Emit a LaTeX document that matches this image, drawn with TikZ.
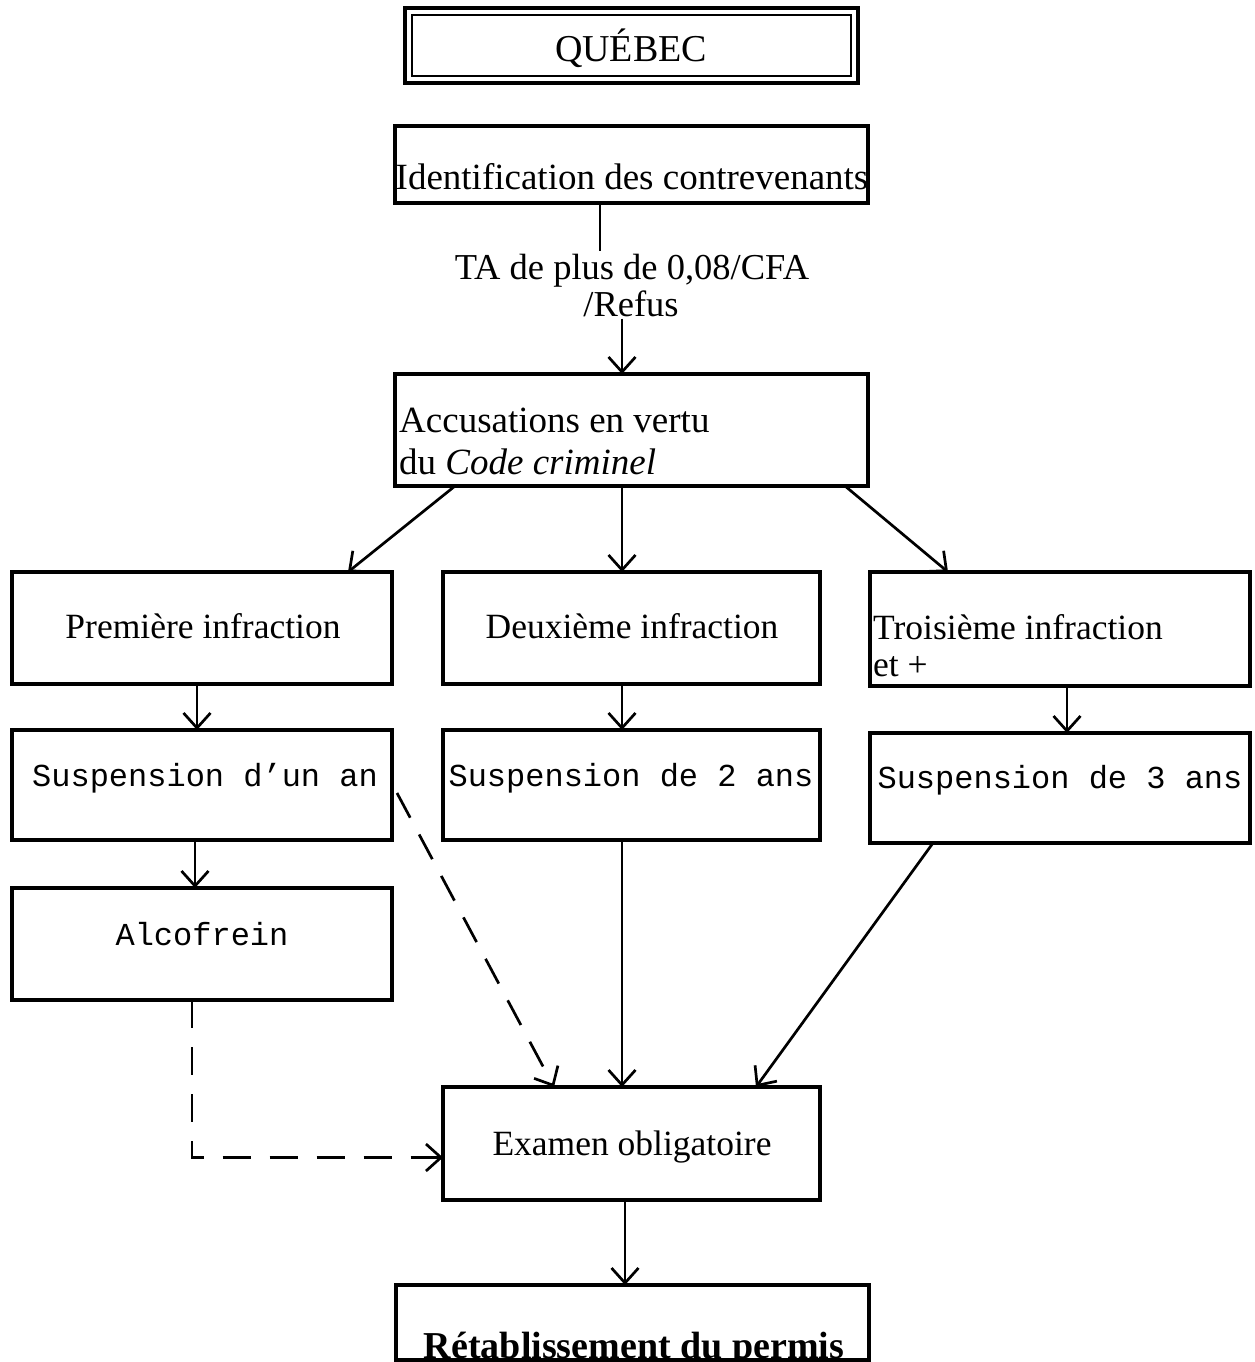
\documentclass[tikz,border=0pt]{standalone}
\usepackage{fontspec}
\setmainfont{Liberation Serif}
\setmonofont{Liberation Mono}
\usetikzlibrary{arrows.meta,calc}

\begin{document}
\begin{tikzpicture}[x=1pt,y=-1pt,
  box/.style={draw, line width=3.2pt, inner sep=0pt, outer sep=0pt},
  conn/.style={line width=2.7pt, -{Straight Barb[length=15pt,width=27pt]}},
  plain/.style={line width=2.7pt},
  dashconn/.style={conn, dash pattern=on 28pt off 19pt},
  txt/.style={inner sep=2pt, font=\fontsize{35.5}{40}\selectfont},
  mono/.style={inner sep=2pt, font=\ttfamily\fontsize{32}{38}\selectfont}
]
\useasboundingbox (0,0) rectangle (1254,1362);
\clip (0,0) rectangle (1254,1362);

% title with a double frame
\node[box, line width=4pt, minimum width=453pt, minimum height=75pt] (quebec) at (631.5,45.5) {};
\draw[line width=2pt] ($(quebec.south west)+(7,-7)$) rectangle ($(quebec.north east)+(-7,7)$);
\node[txt, anchor=base, font=\fontsize{38}{44}\selectfont] (tquebec) at (631,62) {QUÉBEC};

% boxes
\node[box, minimum width=473pt, minimum height=77pt]  (ident) at (631.5,164.5) {};
\node[box, minimum width=473pt, minimum height=112pt] (accus) at (631.5,430) {};
\node[box, minimum width=380pt, minimum height=112pt] (prem)  at (202,628) {};
\node[box, minimum width=377pt, minimum height=112pt] (deux)  at (631.5,628) {};
\node[box, minimum width=380pt, minimum height=114pt] (trois) at (1060,629) {};
\node[box, minimum width=380pt, minimum height=110pt] (susp1) at (202,785) {};
\node[box, minimum width=377pt, minimum height=110pt] (susp2) at (631.5,785) {};
\node[box, minimum width=380pt, minimum height=110pt] (susp3) at (1060,788) {};
\node[box, minimum width=380pt, minimum height=112pt] (alco)  at (202,944) {};
\node[box, minimum width=377pt, minimum height=113pt] (exam)  at (631.5,1143.5) {};
\node[box, minimum width=473pt, minimum height=75pt]  (retab) at (632.5,1322.5) {};

% texts
\node[txt, anchor=base, font=\fontsize{37}{42}\selectfont] (tident) at (632,189) {Identification des contrevenants};
\node[txt, anchor=base, font=\fontsize{36.5}{42}\selectfont] (ta1) at (632,279) {TA de plus de 0,08/CFA};
\node[txt, anchor=base, font=\fontsize{36.5}{42}\selectfont] (ta2) at (631,316) {/Refus};
\node[txt, anchor=base west, font=\fontsize{37}{42}\selectfont] (taccus1) at (397,432) {Accusations en vertu};
\node[txt, anchor=base west, font=\fontsize{37}{42}\selectfont] (taccus2) at (397,474) {du \textit{Code criminel}};
\node[txt, anchor=base] (tprem) at (203,638) {Première infraction};
\node[txt, anchor=base] (tdeux) at (632,638) {Deuxième infraction};
\node[txt, anchor=base west] (ttrois1) at (871,639) {Troisième infraction};
\node[txt, anchor=base west] (ttrois2) at (871,676) {et +};
\node[mono, anchor=base] (tsusp1) at (205,786) {Suspension d’un an};
\node[mono, anchor=base] (tsusp2) at (631,786) {Suspension de 2 ans};
\node[mono, anchor=base] (tsusp3) at (1060,788) {Suspension de 3 ans};
\node[mono, anchor=base] (talco) at (202,945) {Alcofrein};
\node[txt, anchor=base] (texam) at (632,1155) {Examen obligatoire};
\node[txt, anchor=base, font=\bfseries\fontsize{38}{44}\selectfont] (tretab) at (634,1358) {Rétablissement du permis};

% connectors
\coordinate (xtop) at (600,0);
\coordinate (xmid) at (622,0);
\coordinate (xleft) at (197,0);
\coordinate (xright) at (1067,0);
\coordinate (xdash) at (192,0);
\coordinate (xlow) at (625,0);

\draw[plain] (ident.south -| xtop) -- (ta1.north -| xtop);
\draw[conn] (ta2.south -| xmid) -- (accus.north -| xmid);

\draw[conn] ($(accus.south west)+(60,0)$) -- ($(prem.north east)+(-44,0)$);
\draw[conn] (accus.south -| xmid) -- (deux.north -| xmid);
\draw[conn] ($(accus.south east)+(-23,0)$) -- ($(trois.north west)+(78,0)$);

\draw[conn] (prem.south -| xleft) -- (susp1.north -| xleft);
\draw[conn] (deux.south -| xmid) -- (susp2.north -| xmid);
\draw[conn] (trois.south -| xright) -- (susp3.north -| xright);

\draw[conn] (susp1.south -| 195,0) -- (alco.north -| 195,0);

\draw[dashconn] ($(susp1.east)+(5,8)$) -- ($(exam.north west)+(111,0)$);
\draw[conn] (susp2.south -| xmid) -- (exam.north -| xmid);
\draw[conn] ($(susp3.south west)+(63,0)$) -- ($(exam.north east)+(-64,0)$);

\draw[dashconn] (alco.south -| xdash) |- ($(exam.west)+(0,14)$);

\draw[conn] (exam.south -| xlow) -- (retab.north -| xlow);
\end{tikzpicture}
\end{document}
